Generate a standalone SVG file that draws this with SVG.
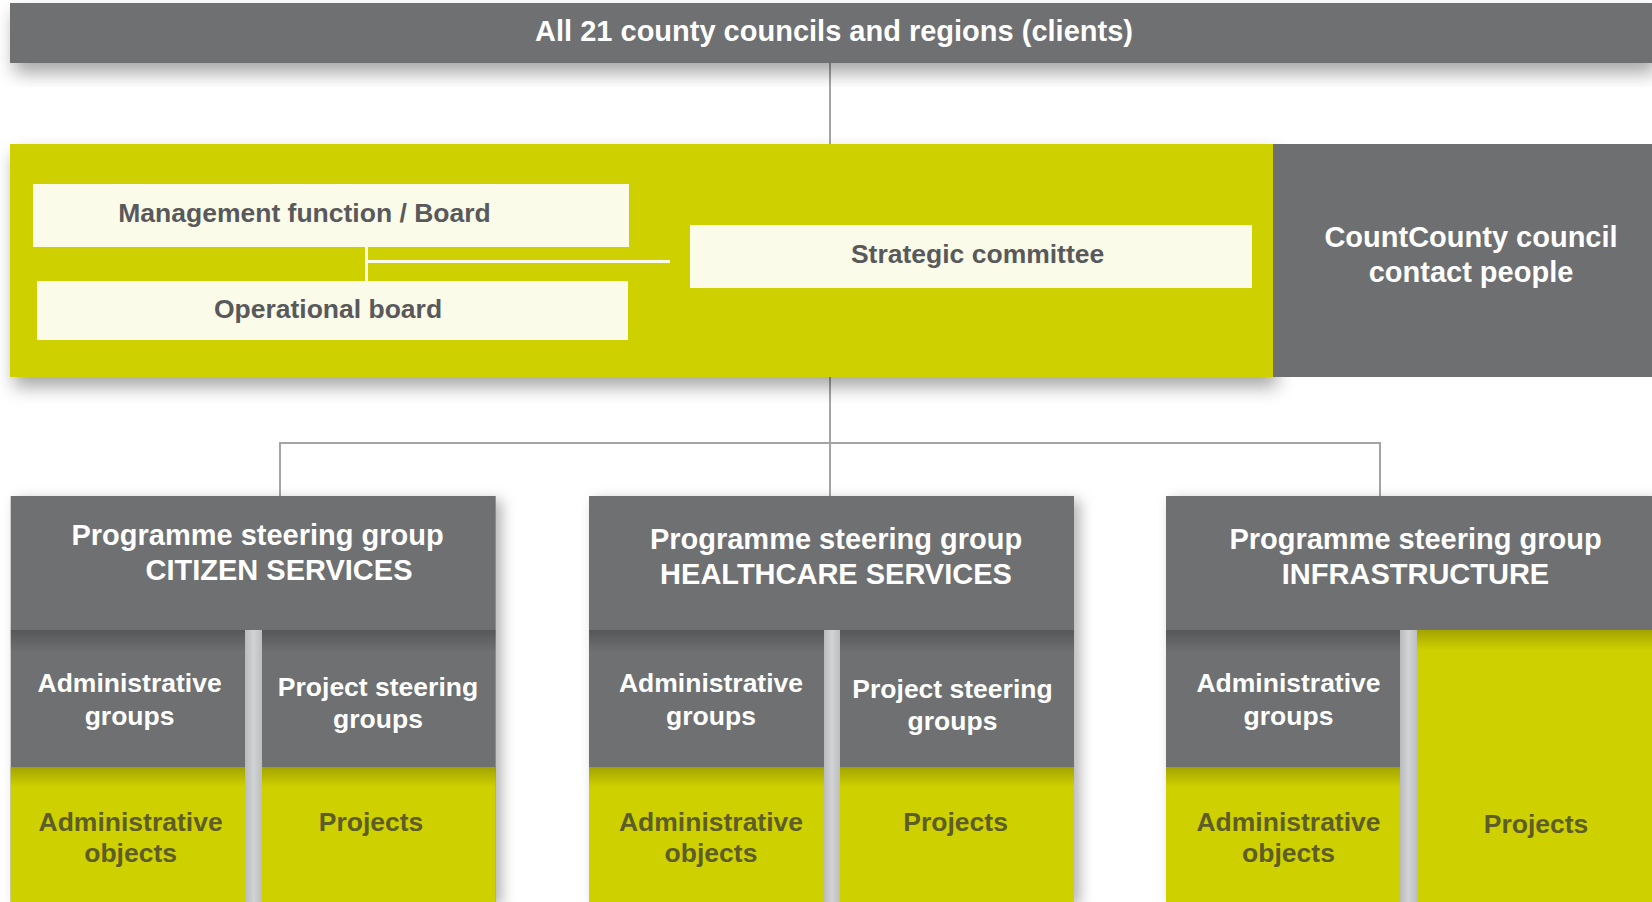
<svg xmlns="http://www.w3.org/2000/svg" width="1652" height="902" viewBox="0 0 1652 902">
<defs>
<filter id="sh" x="-5%" y="-20%" width="115%" height="160%">
<feDropShadow dx="4" dy="10" stdDeviation="9" flood-color="#000" flood-opacity="0.35"/>
</filter>
<filter id="shc" x="-10%" y="-10%" width="125%" height="125%">
<feDropShadow dx="6" dy="4" stdDeviation="7" flood-color="#000" flood-opacity="0.3"/>
</filter>
<linearGradient id="topdark" x1="0" y1="0" x2="0" y2="1">
<stop offset="0" stop-color="#000" stop-opacity="0.22"/>
<stop offset="1" stop-color="#000" stop-opacity="0"/>
</linearGradient>
<linearGradient id="sep" x1="0" y1="0" x2="1" y2="0">
<stop offset="0" stop-color="#b9babb"/>
<stop offset="0.5" stop-color="#d2d3d4"/>
<stop offset="1" stop-color="#bcbdbe"/>
</linearGradient>
</defs>
<style>
.gray{fill:#6e6f71}
.green{fill:#cfd000}
.cream{fill:#fbfbea}
.t{font-family:"Liberation Sans",Arial,sans-serif;font-weight:bold;text-anchor:middle}
.w{fill:#ffffff}
.big{font-size:29px}
.mid{font-size:26.5px}
.dk{fill:#59595b}
.ol{fill:#5d5d28}
.conn{stroke:#a3a4a6;stroke-width:2;fill:none}
.cconn{stroke:#fbfbea;stroke-width:3;fill:none}
</style>

<g id="connectors">
<line class="conn" x1="830" y1="63" x2="830" y2="144"/>
<line class="conn" x1="830" y1="377" x2="830" y2="496"/>
<polyline class="conn" points="280,496 280,443 1380,443 1380,496"/>
</g>

<g id="clients">
<rect class="gray" x="10" y="3" width="1642" height="60" filter="url(#sh)"/>
<text class="t w big" x="834" y="41">All 21 county councils and regions (clients)</text>
</g>

<g id="management-panel">
<rect class="green" x="10" y="144" width="1263" height="233" filter="url(#sh)"/>
</g>

<g id="contact-people">
<rect class="gray" x="1273" y="144" width="379" height="233"/>
<text class="t w big" x="1471" y="247">CountCounty council</text>
<text class="t w big" x="1471" y="282">contact people</text>
</g>

<g id="inner-connectors">
<line class="cconn" x1="366.5" y1="247" x2="366.5" y2="281"/>
<line class="cconn" x1="366.5" y1="261.5" x2="670" y2="261.5"/>
</g>

<g id="management-board">
<rect class="cream" x="33" y="184" width="596" height="63"/>
<text class="t dk mid" x="304.5" y="221.5">Management function / Board</text>
</g>

<g id="operational-board">
<rect class="cream" x="37" y="281" width="591" height="59"/>
<text class="t dk mid" x="328" y="318">Operational board</text>
</g>

<g id="strategic-committee">
<rect class="cream" x="690" y="225" width="562" height="63"/>
<text class="t dk mid" x="977.6" y="262.5">Strategic committee</text>
</g>

<g id="citizen-services">
<rect class="gray" x="10.7" y="496" width="485" height="406" filter="url(#shc)"/>
<text class="t w big" x="257.6" y="545">Programme steering group</text>
<text class="t w big" x="279" y="580">CITIZEN SERVICES</text>
<rect x="10.7" y="630" width="485" height="22" fill="url(#topdark)"/>
<rect class="green" x="10.7" y="767" width="485" height="135"/>
<rect x="10.7" y="767" width="485" height="20" fill="url(#topdark)"/>
<rect x="245" y="630" width="17" height="272" fill="url(#sep)"/>
<text class="t w mid" x="129.6" y="692">Administrative</text>
<text class="t w mid" x="129.6" y="724.5">groups</text>
<text class="t w mid" x="378" y="695.5">Project steering</text>
<text class="t w mid" x="378" y="728">groups</text>
<text class="t ol mid" x="130.6" y="830.5">Administrative</text>
<text class="t ol mid" x="130.6" y="861.5">objects</text>
<text class="t ol mid" x="371" y="830.5">Projects</text>
</g>

<g id="healthcare-services">
<rect class="gray" x="589" y="496" width="485" height="406" filter="url(#shc)"/>
<text class="t w big" x="836" y="549">Programme steering group</text>
<text class="t w big" x="836" y="584">HEALTHCARE SERVICES</text>
<rect x="589" y="630" width="485" height="22" fill="url(#topdark)"/>
<rect class="green" x="589" y="767" width="485" height="135"/>
<rect x="589" y="767" width="485" height="20" fill="url(#topdark)"/>
<rect x="824" y="630" width="16" height="272" fill="url(#sep)"/>
<text class="t w mid" x="711" y="692">Administrative</text>
<text class="t w mid" x="711" y="724.5">groups</text>
<text class="t w mid" x="952.5" y="697.5">Project steering</text>
<text class="t w mid" x="952.5" y="730">groups</text>
<text class="t ol mid" x="711" y="830.5">Administrative</text>
<text class="t ol mid" x="711" y="861.5">objects</text>
<text class="t ol mid" x="955.6" y="830.5">Projects</text>
</g>

<g id="infrastructure">
<rect class="gray" x="1166" y="496" width="486" height="406" filter="url(#shc)"/>
<text class="t w big" x="1415.5" y="549">Programme steering group</text>
<text class="t w big" x="1415.5" y="584">INFRASTRUCTURE</text>
<rect x="1166" y="630" width="234" height="22" fill="url(#topdark)"/>
<rect class="green" x="1166" y="767" width="234" height="135"/>
<rect x="1166" y="767" width="234" height="20" fill="url(#topdark)"/>
<rect class="green" x="1417" y="630" width="235" height="272"/>
<rect x="1417" y="630" width="235" height="20" fill="url(#topdark)"/>
<rect x="1400" y="630" width="17" height="272" fill="url(#sep)"/>
<text class="t w mid" x="1288.5" y="692">Administrative</text>
<text class="t w mid" x="1288.5" y="724.5">groups</text>
<text class="t ol mid" x="1288.5" y="830.5">Administrative</text>
<text class="t ol mid" x="1288.5" y="861.5">objects</text>
<text class="t ol mid" x="1536" y="832.5">Projects</text>
</g>
</svg>
